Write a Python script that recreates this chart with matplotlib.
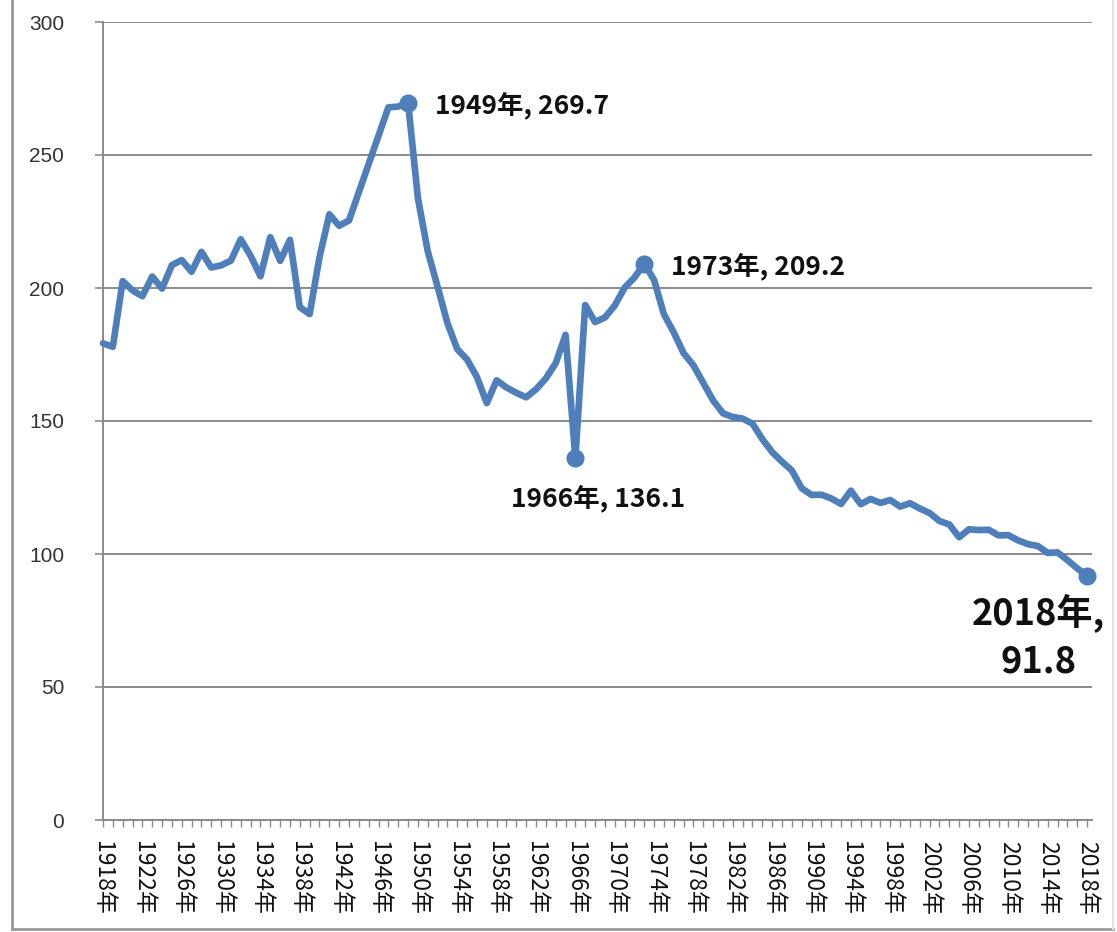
import numpy as np
import matplotlib
matplotlib.use('Agg')
import matplotlib.pyplot as plt
from matplotlib.ticker import MultipleLocator
from matplotlib.lines import Line2D

plt.rcParams['font.family'] = ['Noto Sans CJK JP', 'DejaVu Sans']

# births per year, in units of 10,000 (1944-1946 missing)
years = list(range(1918, 2019))
births = [
    179.2, 177.9, 202.6, 199.1, 196.9, 204.3, 199.8, 208.6, 210.5, 206.1,   # 1918-1927
    213.6, 207.7, 208.5, 210.3, 218.3, 212.1, 204.4, 219.1, 210.2, 218.1,   # 1928-1937
    192.8, 190.2, 211.6, 227.7, 223.4, 225.4, None, None, None, 267.9,      # 1938-1947
    268.2, 269.7, 233.8, 213.8, 200.5, 186.8, 177.0, 173.1, 166.5, 156.7,   # 1948-1957
    165.3, 162.6, 160.6, 158.9, 161.9, 166.0, 171.7, 182.4, 136.1, 193.6,   # 1958-1967
    187.2, 188.9, 193.4, 200.1, 203.9, 209.2, 203.0, 190.1, 183.3, 175.5,   # 1968-1977
    170.9, 164.3, 157.7, 152.9, 151.5, 150.9, 149.0, 143.2, 138.3, 134.7,   # 1978-1987
    131.4, 124.7, 122.2, 122.3, 120.9, 118.8, 123.8, 118.7, 120.7, 119.2,   # 1988-1997
    120.3, 117.8, 119.1, 117.1, 115.4, 112.4, 111.1, 106.3, 109.3, 109.0,   # 1998-2007
    109.1, 107.0, 107.1, 105.1, 103.7, 103.0, 100.4, 100.6, 97.7, 94.6,     # 2008-2017
    91.8,                                                                   # 2018
]
marked_years = [1949, 1966, 1973, 2018]
yticks = [0, 50, 100, 150, 200, 250, 300]
xtick_years = list(range(1918, 2019, 4))

BLUE = '#4F7FBB'
GRID = '#8a8a8a'

fig = plt.figure(figsize=(11.17, 9.32), dpi=100)
ax = fig.add_axes([103 / 1117, 1 - 820 / 932, (1092 - 103) / 1117, (820 - 22) / 932])

# skip the missing years, the line just joins across the gap
xs = [y for y, v in zip(years, births) if v is not None]
vs = [v for v in births if v is not None]
ax.plot(xs, vs, color=BLUE, lw=4.8, solid_joinstyle='round', solid_capstyle='round',
        zorder=3, clip_on=False)

mv = [births[years.index(y)] for y in marked_years]
ax.plot(marked_years, mv, 'o', ms=12, color=BLUE, zorder=4, clip_on=False)

# data labels
offsets = {1949: (27, -3, 'left', 'center'),
           1973: (27, -3, 'left', 'center'),
           1966: (23, -40, 'center', 'center')}
for y, v in zip(marked_years, mv):
    if y in offsets:
        dx, dy, ha, va = offsets[y]
        ax.annotate(f'{y}年, {v:.1f}', xy=(y, v), xytext=(dx, dy), textcoords='offset pixels',
                    ha=ha, va=va, fontsize=19, fontweight='bold', color='#111111')
    else:
        ax.annotate(f'{y}年,\n{v:.1f}', xy=(y, v), xytext=(-49, -18), textcoords='offset pixels',
                    ha='center', va='top', multialignment='center', linespacing=1.35,
                    fontsize=26, fontweight='bold', color='#111111')

ax.set_xlim(1918, 2018.5)
ax.set_ylim(0, 300)
ax.set_yticks(yticks)
ax.set_xticks(xtick_years)
ax.set_xticklabels([f'{y}年' for y in xtick_years])
ax.xaxis.set_minor_locator(MultipleLocator(1))

ax.grid(axis='y', color=GRID, lw=1.4)
ax.set_axisbelow(True)
for s in ['top', 'right']:
    ax.spines[s].set_visible(False)
for s in ['left', 'bottom']:
    ax.spines[s].set_color(GRID)
    ax.spines[s].set_linewidth(1.4)

ax.tick_params(axis='y', length=6, width=1.2, color=GRID, pad=22, labelsize=15, labelcolor='#333333')
for lab in ax.get_yticklabels():
    lab.set_fontfamily(['Liberation Sans', 'DejaVu Sans'])
ax.tick_params(axis='x', which='both', length=5, width=1, color=GRID, pad=10,
               labelsize=16.5, labelrotation=-90, labelcolor='#111111')

# outer chart border
fig.add_artist(Line2D([12 / 1117, 12 / 1117], [0.003, 1], color='#9a9a9a', lw=2))
fig.add_artist(Line2D([12 / 1117, 1113 / 1117], [0.003, 0.003], color='#9a9a9a', lw=2))
fig.add_artist(Line2D([1113 / 1117, 1113 / 1117], [0.003, 1], color='#e2e2e2', lw=1.5))

fig.savefig('out.png', dpi=100)
